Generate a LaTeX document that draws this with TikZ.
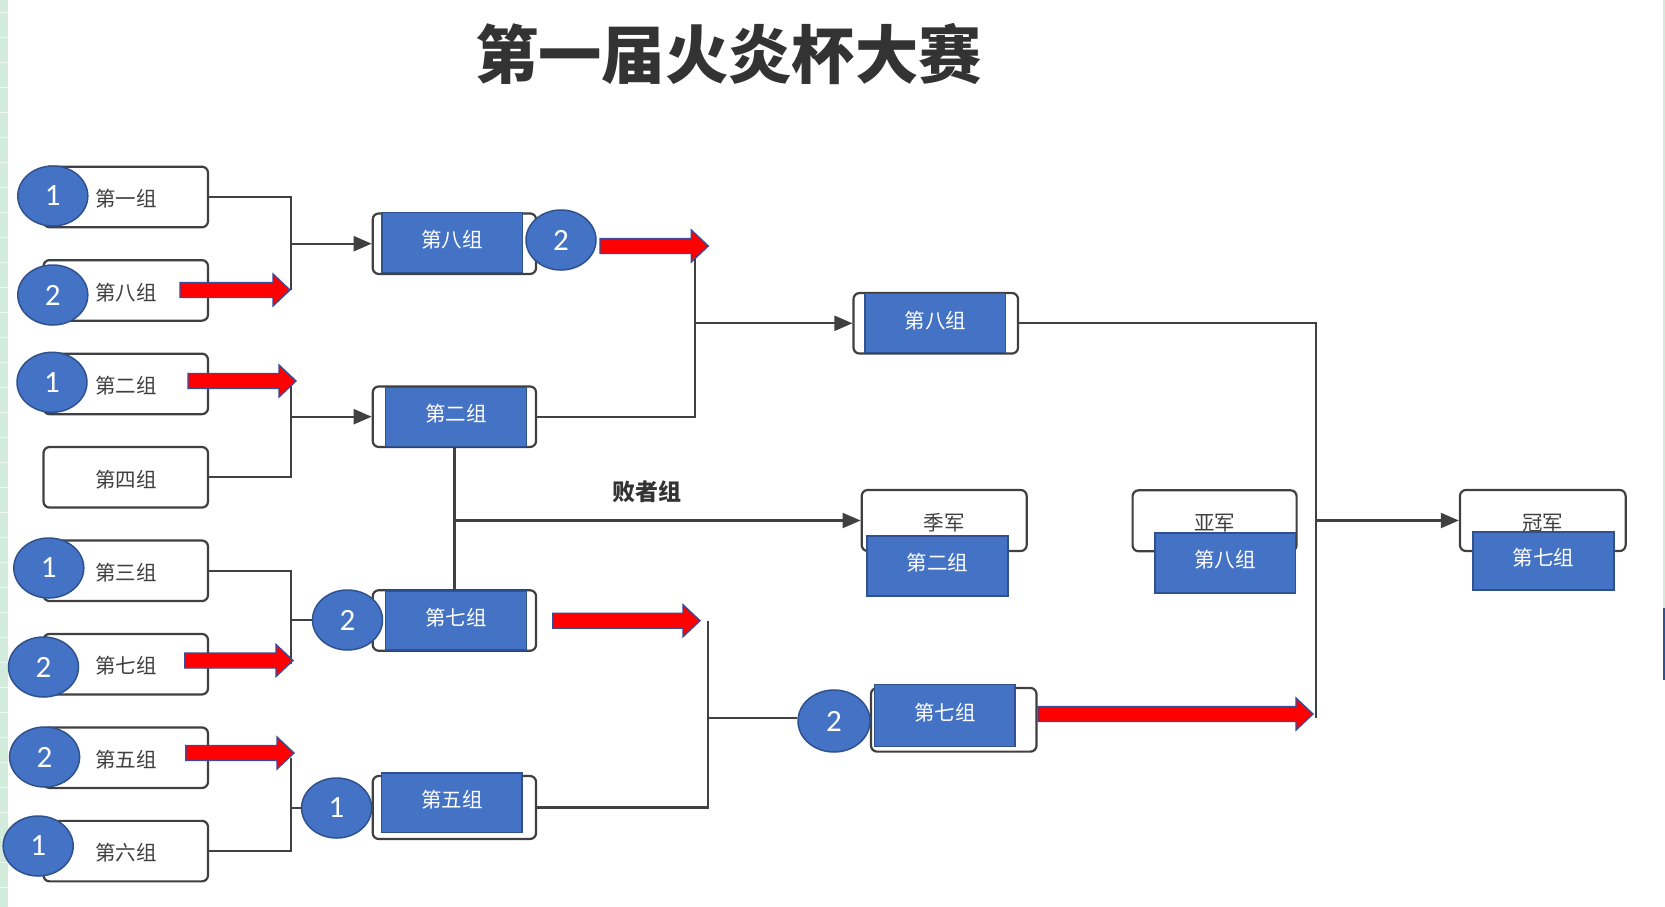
\documentclass[tikz,border=0pt]{standalone}
\usepackage{fontspec}
\setmainfont{Carlito}
\newfontfamily\cjk{Noto Sans CJK SC}
\usetikzlibrary{arrows.meta,shapes.geometric,calc}
\definecolor{obl}{HTML}{4472C4}
\definecolor{obd}{HTML}{2F528F}
\definecolor{ln}{HTML}{404040}
\definecolor{txt}{HTML}{404040}
\definecolor{ttl}{HTML}{333333}
\definecolor{gstrip}{HTML}{D2EBDA}
\definecolor{redf}{HTML}{FF0000}
\definecolor{redb}{HTML}{3B4A9A}
\newcommand\myRedArrow[3]{%
  \draw[redarr] (#1,#3-7.5) -- (#2-17,#3-7.5) -- (#2-17,#3-16) -- (#2,#3)
    -- (#2-17,#3+16) -- (#2-17,#3+7.5) -- (#1,#3+7.5) -- cycle;}
\begin{document}
\begin{tikzpicture}[x=1pt,y=-1pt,
  wbox/.style={draw=ln, line width=2.2pt, rounded corners=6pt, fill=white,
    minimum width=164.5pt, minimum height=60.5pt, inner sep=0pt,
    text height=22pt, text depth=2.5pt,
    font=\cjk\fontsize{20.5}{24}\selectfont, text=txt},
  bbox/.style={fill=obl, draw=obd, line width=1.2pt, minimum width=140.5pt,
    minimum height=60pt, inner sep=0pt, text height=18pt, text depth=8.5pt,
    font=\cjk\fontsize{20.5}{24}\selectfont, text=white},
  num/.style={ellipse, fill=obl, draw=obd, line width=1.5pt, minimum width=70pt,
    minimum height=60pt, inner sep=0pt, font=\fontsize{31}{31}\selectfont, text=white},
  conn/.style={draw=ln, line width=2.2pt},
  arr/.style={conn, -{Triangle[length=18pt,width=15pt]}},
  redarr/.style={fill=redf, draw=redb, line width=1.4pt, line join=miter},
]
\useasboundingbox (0,0) rectangle (1665,907);
\fill[white] (0,0) rectangle (1665,907);
% spreadsheet strips at the edges
\fill[gstrip] (0,0) rectangle (7.5,907);
\foreach \yy in {12,37,...,907} \draw[white!55!gstrip, line width=0.7pt] (0,\yy) -- (7.5,\yy);
\fill[gstrip] (1663,0) rectangle (1665,608);
\fill[obd] (1663,608) rectangle (1665,680);

% title
\node[font=\cjk\bfseries\fontsize{63.3}{70}\selectfont, text=ttl] (title) at (728.5,54) {第一届火炎杯大赛};

% first round boxes
\node[wbox] (b1) at (125.75,197.0) {第一组};
\node[wbox] (b2) at (125.75,290.4) {第八组};
\node[wbox] (b3) at (125.75,383.9) {第二组};
\node[wbox] (b4) at (125.75,477.3) {第四组};
\node[wbox] (b5) at (125.75,570.8) {第三组};
\node[wbox] (b6) at (125.75,664.2) {第七组};
\node[wbox] (b7) at (125.75,757.7) {第五组};
\node[wbox] (b8) at (125.75,851.1) {第六组};

% second round
\node[wbox, minimum width=163.3pt] (r2a) at (454.4,243.7) {};
\node[bbox] (r2ai) at (452.2,242.7) {第八组};
\node[wbox, minimum width=163.3pt] (r2b) at (454.4,416.7) {};
\node[bbox, minimum width=141pt, minimum height=59pt] (r2bi) at (456.1,416.7) {第二组};
\node[wbox, minimum width=163.3pt] (r2c) at (454.4,620.5) {};
\node[bbox, minimum width=141pt, minimum height=59pt] (r2ci) at (456.1,620.5) {第七组};
\node[wbox, minimum width=163.3pt, minimum height=63pt] (r2d) at (454.4,807.5) {};
\node[bbox, minimum height=59.5pt] (r2di) at (451.8,802.7) {第五组};

% third round
\node[wbox] (r3a) at (935.75,323.3) {};
\node[bbox, minimum width=140.7pt, minimum height=59pt] (r3ai) at (935.3,323.3) {第八组};
\node[wbox, minimum width=165.5pt, minimum height=63.6pt] (r3b) at (953.75,719.8) {};
\node[bbox, minimum width=140.3pt, minimum height=61.6pt] (r3bi) at (944.9,715.6) {第七组};

% ranking boxes
\node[wbox, minimum width=165pt, minimum height=61pt] (jj) at (944.2,520.5) {季军};
\node[bbox, minimum width=141pt] (jji) at (937.5,566) {第二组};
\node[wbox, minimum width=164pt, minimum height=61pt] (yj) at (1214.6,520.8) {亚军};
\node[bbox, minimum width=140.5pt] (yji) at (1225.2,563) {第八组};
\node[wbox, minimum width=165.7pt, minimum height=61pt] (gj) at (1542.8,520.5) {冠军};
\node[bbox, minimum width=141pt, minimum height=58pt] (gji) at (1543.5,561) {第七组};

% seed circles
\node[num] (c1) at (52.8,196) {1};
\node[num] (c2) at (52.8,295) {2};
\node[num] (c3) at (52,382.3) {1};
\node[num] (c5) at (48.8,568) {1};
\node[num] (c6) at (43.5,667) {2};
\node[num] (c7) at (44.6,757) {2};
\node[num] (c8) at (38.2,846) {1};
\node[num] (c2a) at (561,240) {2};
\node[num] (c2c) at (347.5,620) {2};
\node[num] (c2d) at (336.6,808) {1};
\node[num, minimum width=72pt, minimum height=62pt] (c3b) at (834,721) {2};

% connectors
\coordinate (v1) at (291,290.4);
\draw[conn] (b1.east) -| (v1);
\draw[arr] (v1 |- r2a) -- (r2a.west);

\coordinate (v2) at (291,477.3);
\draw[conn] (b3.east) -| (v2) -- (b4.east);
\draw[arr] (v2 |- r2b) -- (r2b.west);

\coordinate (v3) at (291,664.2);
\draw[conn] (b5.east) -| (v3);
\draw[conn] (v3 |- c2c) -- (c2c.west);

\coordinate (v4) at (291,757.7);
\draw[conn] (v4) -- (v4 |- b8) -- (b8.east);
\draw[conn] (v4 |- c2d) -- (c2d.west);

\coordinate (v5) at (695,246);
\draw[conn] (r2b.east) -| (v5);
\draw[arr] (v5 |- r3a) -- (r3a.west);

\coordinate (v6) at (708,620.7);
\coordinate (m6) at (708,718);
\draw[conn] (r2d.east) -| (v6);
\draw[conn] (m6) -- (m6 -| c3b.west);

\coordinate (v7) at (1315.7,718);
\draw[conn] (r3a.east) -| (v7);
\draw[arr] (v7 |- gj) -- (gj.west);

\draw[conn] (r2b.south) -- (r2c.north);
\coordinate (l1) at (454.4,520.5);
\draw[arr] (l1) -- (l1 -| jj.west);
\node[font=\cjk\bfseries\fontsize{23}{26}\selectfont, text=ttl] (lose) at (646.7,491.7) {败者组};

% red advance arrows
\myRedArrow{180}{290}{290}
\myRedArrow{188}{296}{381}
\myRedArrow{184.8}{293}{660.5}
\myRedArrow{185.8}{294}{753}
\myRedArrow{600}{708.3}{246}
\myRedArrow{552.7}{700}{620.7}
\myRedArrow{1038}{1313}{714}
\end{tikzpicture}
\end{document}
